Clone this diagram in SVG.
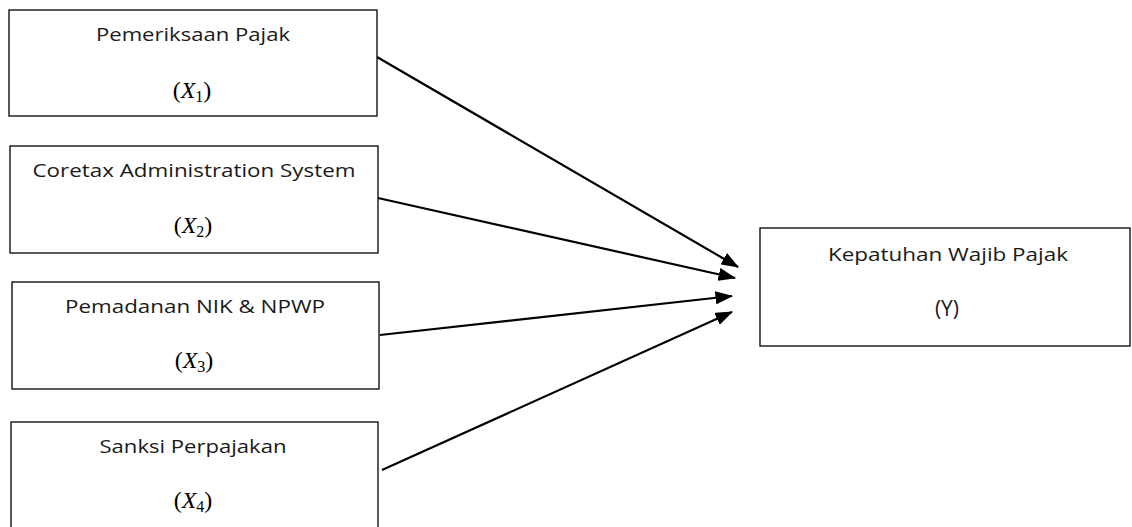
<svg xmlns="http://www.w3.org/2000/svg" width="1132" height="527" viewBox="0 0 1132 527">
<style>
.box{fill:#fff;stroke:#000;stroke-width:1.3}
.t{font-family:"Open Sans","Noto Sans",sans-serif;font-size:19px;fill:#1a1a1a;text-anchor:middle}
.y{font-size:21px}
.m{font-family:"Liberation Serif","DejaVu Serif",serif;font-size:24px;fill:#000;text-anchor:middle}
.conn line{stroke:#000;stroke-width:2.2}
</style>
<defs>
<marker id="ah" markerWidth="8" markerHeight="6" refX="7.5" refY="3" orient="auto" markerUnits="strokeWidth">
<path d="M0,0 L8,3 L0,6 z" fill="#000"/>
</marker>
</defs>
<rect width="1132" height="527" fill="#fff"/>
<g id="n1"><rect class="box" x="9" y="10" width="368" height="106"/>
<text class="t" x="193" y="41" textLength="194" lengthAdjust="spacingAndGlyphs">Pemeriksaan Pajak</text>
<text class="m" x="192" y="98">(<tspan font-style="italic">X</tspan><tspan font-size="16" dy="4">1</tspan><tspan dy="-4">)</tspan></text></g>
<g id="n2"><rect class="box" x="10" y="146" width="368" height="107"/>
<text class="t" x="194" y="177" textLength="323" lengthAdjust="spacingAndGlyphs">Coretax Administration System</text>
<text class="m" x="193" y="233">(<tspan font-style="italic">X</tspan><tspan font-size="16" dy="4">2</tspan><tspan dy="-4">)</tspan></text></g>
<g id="n3"><rect class="box" x="12" y="282" width="367" height="107"/>
<text class="t" x="195" y="313" textLength="260" lengthAdjust="spacingAndGlyphs">Pemadanan NIK &amp; NPWP</text>
<text class="m" x="194" y="368">(<tspan font-style="italic">X</tspan><tspan font-size="16" dy="4">3</tspan><tspan dy="-4">)</tspan></text></g>
<g id="n4"><rect class="box" x="11" y="422" width="367" height="120"/>
<text class="t" x="193" y="453" textLength="187" lengthAdjust="spacingAndGlyphs">Sanksi Perpajakan</text>
<text class="m" x="193" y="508">(<tspan font-style="italic">X</tspan><tspan font-size="16" dy="4">4</tspan><tspan dy="-4">)</tspan></text></g>
<g id="ny"><rect class="box" x="760" y="228" width="370" height="118"/>
<text class="t" x="948" y="261" textLength="240" lengthAdjust="spacingAndGlyphs">Kepatuhan Wajib Pajak</text>
<text class="t y" x="947" y="316">(Y)</text></g>
<g class="conn" id="connectors">
<line x1="377" y1="57" x2="738" y2="267" marker-end="url(#ah)"/>
<line x1="378" y1="198" x2="735" y2="278" marker-end="url(#ah)"/>
<line x1="380" y1="335" x2="732" y2="296" marker-end="url(#ah)"/>
<line x1="382" y1="470" x2="732" y2="312" marker-end="url(#ah)"/>
</g>
</svg>
